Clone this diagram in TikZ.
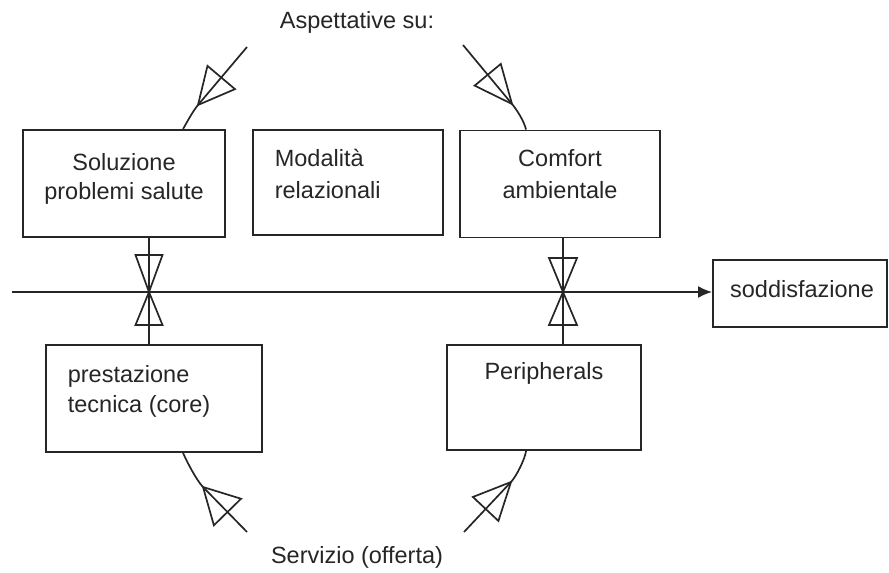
\documentclass[tikz,border=0pt]{standalone}
\usepackage{fontspec}
\setmainfont{Liberation Sans}
\usetikzlibrary{calc,arrows.meta}
\newcommand{\valvetri}[4]{%
  \path ($(#1)!#3!(#2)$) coordinate (vm);
  \draw[valve] (#1) -- ($(vm)!#4!90:(#2)$) -- ($(vm)!#4!-90:(#2)$) -- cycle;}
\begin{document}
\begin{tikzpicture}[x=1pt,y=-1pt,
  line width=1.7pt, draw=black!85,
  box/.style={draw=black!85, line width=1.9pt, inner sep=0pt},
  lbl/.style={font=\fontsize{23.5}{30}\selectfont, text=black!85, inner sep=0pt},
  valve/.style={draw=black!85, line width=1.7pt, line join=miter, fill=none},
  conn/.style={draw=black!85, line width=1.7pt}]
\useasboundingbox (0,0) rectangle (889,573);
\fill[white] (0,0) rectangle (889,573);
% boxes
\node[box, minimum width=202pt, minimum height=107pt] (sol) at (124,183.5) {};
\node[box, minimum width=190pt, minimum height=105pt] (mod) at (348,182.5) {};
\node[box, minimum width=200pt, minimum height=107pt] (com) at (560,184) {};
\node[box, minimum width=216pt, minimum height=107pt] (pre) at (154,398.5) {};
\node[box, minimum width=194pt, minimum height=105pt] (per) at (544,397.5) {};
\node[box, minimum width=174pt, minimum height=67pt] (sod) at (800,293.5) {};
% texts
\node[lbl, anchor=base] (tasp) at (357,28) {Aspettative su:};
\node[lbl, anchor=base] (tser) at (357,563) {Servizio (offerta)};
\node[lbl, anchor=base] (tsol1) at (124,170) {Soluzione};
\node[lbl, anchor=base] (tsol2) at (124,199) {problemi salute};
\node[lbl, anchor=base west] (tmod1) at (274,166) {Modalità};
\node[lbl, anchor=base west] (tmod2) at (274,198) {relazionali};
\node[lbl, anchor=base] (tcom1) at (560,166) {Comfort};
\node[lbl, anchor=base] (tcom2) at (560,198) {ambientale};
\node[lbl, anchor=base west] (tpre1) at (67,382) {prestazione};
\node[lbl, anchor=base west] (tpre2) at (67,412) {tecnica (core)};
\node[lbl, anchor=base] (tper) at (544,379) {Peripherals};
\node[lbl, anchor=base] (tsod) at (802,297) {soddisfazione};
% main line
\coordinate (start) at (12,292);
\draw[conn, -{Latex[length=14pt,width=12pt]}] (start) -- (sod.west |- start);
% vertical connectors
\coordinate (cL) at (149,292);
\coordinate (cR) at (563,292);
\draw[conn] (sol.south -| cL) -- (pre.north -| cL);
\draw[conn] (com.south -| cR) -- (per.north -| cR);
\valvetri{cL}{sol.south -| cL}{37pt}{13.5pt}
\valvetri{cL}{pre.north -| cL}{33pt}{13.5pt}
\valvetri{cR}{com.south -| cR}{34pt}{14pt}
\valvetri{cR}{per.north -| cR}{33pt}{14pt}
% diagonal connectors
\coordinate (eTL) at (247,47);  \coordinate (aTL) at (198,105);
\coordinate (eTR) at (463,45);  \coordinate (aTR) at (512,104);
\coordinate (eBL) at (247,532); \coordinate (aBL) at (203,487);
\coordinate (eBR) at (464,532); \coordinate (aBR) at (511,482);
\draw[conn] (eTL) -- (aTL) .. controls (193,111) and (187,122) .. ([xshift=161pt]sol.north west);
\draw[conn] (eTR) -- (aTR) .. controls (517,110) and (524,121) .. ([xshift=67pt]com.north west);
\draw[conn] (eBL) -- (aBL) .. controls (197,481) and (187,462) .. ([xshift=138pt]pre.south west);
\draw[conn] (eBR) -- (aBR) .. controls (516.5,476) and (525,459) .. ([xshift=80pt]per.south west);
\valvetri{aTL}{eTL}{36pt}{18pt}
\valvetri{aTR}{eTR}{38pt}{17pt}
\valvetri{aBL}{eBL}{35pt}{19pt}
\valvetri{aBR}{eBR}{37pt}{17.5pt}
\end{tikzpicture}
\end{document}
